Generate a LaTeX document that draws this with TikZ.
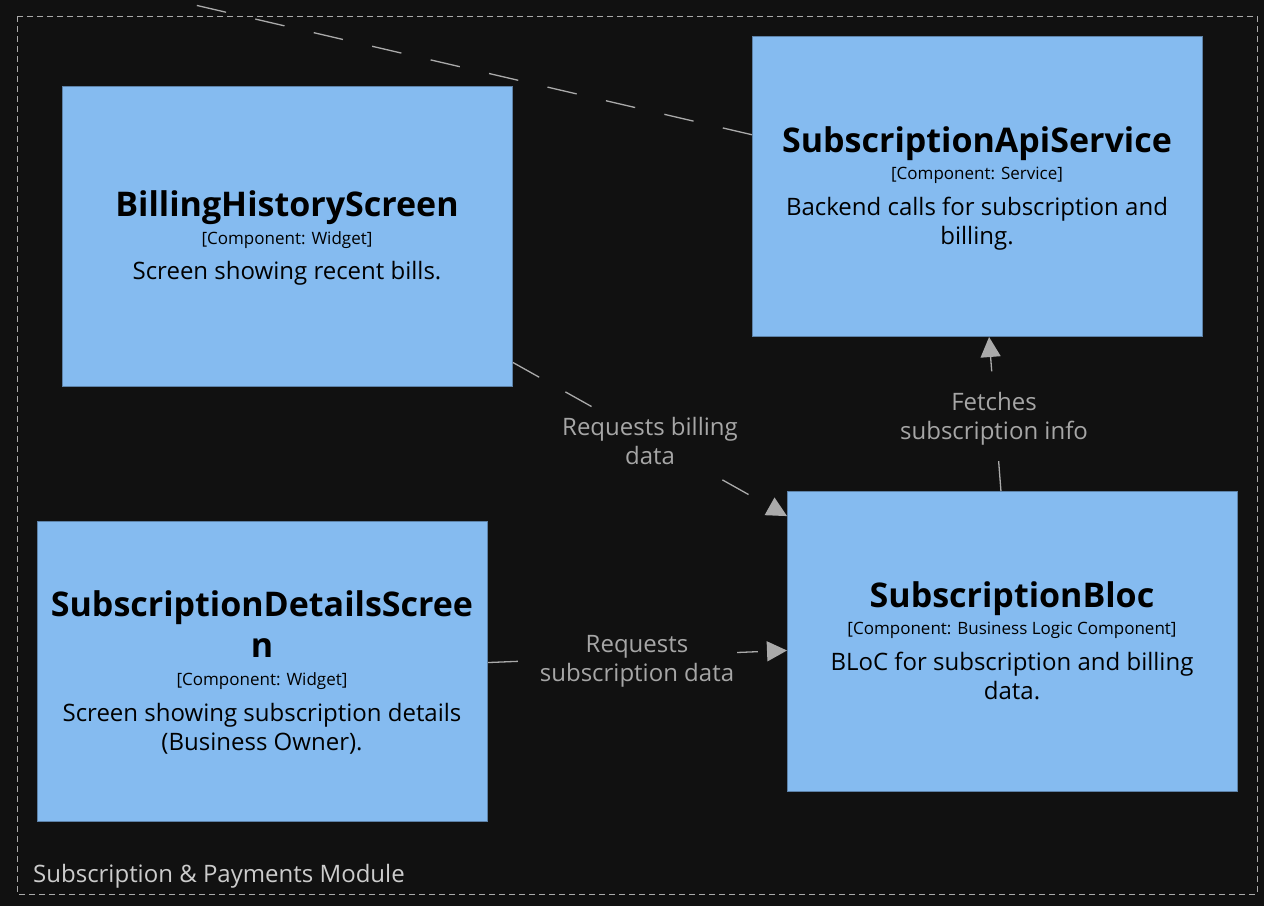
\documentclass[tikz,border=0pt]{standalone}
\usepackage{fontspec}
\setmainfont{Open Sans}
\usetikzlibrary{arrows.meta}
\definecolor{bg}{HTML}{111111}
\definecolor{boxfill}{HTML}{85BBF0}
\definecolor{boxline}{HTML}{5D82A8}
\definecolor{edgeclr}{HTML}{AAAAAA}
\definecolor{lblclr}{HTML}{A6A6A6}
\definecolor{bndclr}{HTML}{AAAAAA}
\definecolor{bndtxt}{HTML}{CCCCCC}
\begin{document}
\begin{tikzpicture}[x=1pt,y=-1pt,
  comp/.style={draw=boxline, fill=boxfill, line width=1pt, minimum width=450pt, minimum height=300pt, inner sep=0pt, anchor=north west},
  ttl/.style={anchor=base, font=\fontsize{34}{40}\selectfont\bfseries, inner sep=0pt, text=black},
  typ/.style={anchor=base, font=\fontsize{17}{20}\selectfont, inner sep=0pt, text=black},
  dsc/.style={anchor=base, font=\fontsize{24}{29}\selectfont, inner sep=0pt, text=black},
  rel/.style={draw=edgeclr, line width=1.3pt, dash pattern=on 30pt off 30pt, -{Triangle[length=20pt,width=20pt]}},
  rlbl/.style={fill=bg, text=lblclr, font=\fontsize{24}{29}\selectfont, align=center, inner sep=3pt},
]
\useasboundingbox (0,0) rectangle (1264,906);
\fill[bg] (0,0) rectangle (1264,906);
\draw[bndclr, line width=1pt, dash pattern=on 6pt off 4pt] (17,16) rectangle (1257,894);
\node[anchor=base west, inner sep=0pt, text=bndtxt, font=\fontsize{24}{29}\selectfont] (bndlabel) at (33,882) {Subscription \& Payments Module};

% components
\node[comp] (bhs) at (62,86) {};
\node[comp] (api) at (752,36) {};
\node[comp] (sds) at (37,521) {};
\node[comp] (bloc) at (787,491) {};

\node[ttl] (bhs-t) at (287,216) {BillingHistoryScreen};
\node[typ] (bhs-k) at (287,244) {[Component: Widget]};
\node[dsc] (bhs-d) at (287,279) {Screen showing recent bills.};

\node[ttl] (api-t) at (977,152) {SubscriptionApiService};
\node[typ] (api-k) at (977,179) {[Component: Service]};
\node[dsc] (api-d1) at (977,215) {Backend calls for subscription and};
\node[dsc] (api-d2) at (977,244) {billing.};

\node[ttl] (sds-t1) at (262,616) {SubscriptionDetailsScree};
\node[ttl] (sds-t2) at (262,657) {n};
\node[typ] (sds-k) at (262,685) {[Component: Widget]};
\node[dsc] (sds-d1) at (262,721) {Screen showing subscription details};
\node[dsc] (sds-d2) at (262,750) {(Business Owner).};

\node[ttl] (bloc-t) at (1012,607) {SubscriptionBloc};
\node[typ] (bloc-k) at (1012,634) {[Component: Business Logic Component]};
\node[dsc] (bloc-d1) at (1012,670) {BLoC for subscription and billing};
\node[dsc] (bloc-d2) at (1012,699) {data.};

% relations
\coordinate (ext) at (-200,-87);
\begin{scope}
  \clip (0,0) rectangle (1264,906);
  \draw[rel] (api) -- (ext);
\end{scope}
\draw[rel] (bhs) -- (bloc);
\draw[rel] (sds) -- (bloc);
\draw[rel] (bloc) -- (api);

\node[rlbl] (l1) at (650,441) {Requests billing\\data};
\node[rlbl] (l2) at (637,661) {Requests\\subscription data};
\node[rlbl] (l3) at (994,419) {Fetches\\subscription info};
\end{tikzpicture}
\end{document}
